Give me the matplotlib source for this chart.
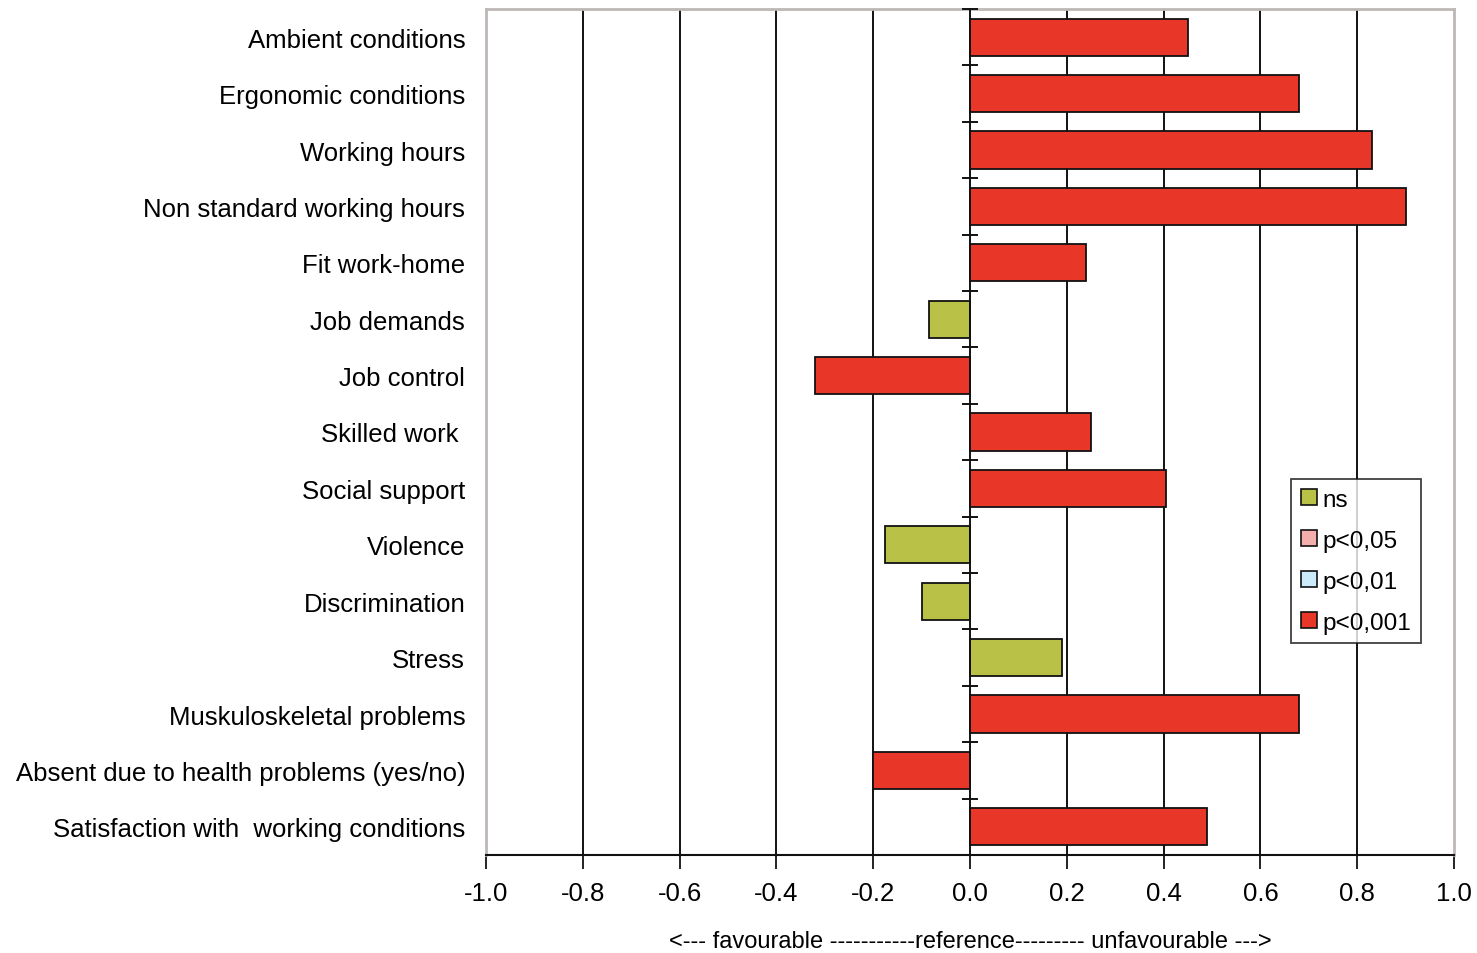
import matplotlib
matplotlib.use("Agg")
import matplotlib.pyplot as plt
import numpy as np
from matplotlib.patches import Patch

categories = [
    "Ambient conditions",
    "Ergonomic conditions",
    "Working hours",
    "Non standard working hours",
    "Fit work-home",
    "Job demands",
    "Job control",
    "Skilled work ",
    "Social support",
    "Violence",
    "Discrimination",
    "Stress",
    "Muskuloskeletal problems",
    "Absent due to health problems (yes/no)",
    "Satisfaction with  working conditions",
]
values = [0.45, 0.68, 0.83, 0.90, 0.24, -0.085, -0.32, 0.25, 0.405, -0.175, -0.10, 0.19, 0.68, -0.20, 0.49]
significance = ["p<0,001", "p<0,001", "p<0,001", "p<0,001", "p<0,001", "ns", "p<0,001",
                "p<0,001", "p<0,001", "ns", "ns", "ns", "p<0,001", "p<0,001", "p<0,001"]
legend_labels = ["ns", "p<0,05", "p<0,01", "p<0,001"]
xticks = [-1.0, -0.8, -0.6, -0.4, -0.2, 0.0, 0.2, 0.4, 0.6, 0.8, 1.0]
xlabel = "<--- favourable -----------reference--------- unfavourable --->"

colors = {"ns": "#B9C147", "p<0,05": "#F4AEAE", "p<0,01": "#CBEBFA", "p<0,001": "#E83628"}

plt.rcParams['font.family'] = ['Liberation Sans', 'DejaVu Sans']

fig = plt.figure(figsize=(14.77, 9.54), dpi=100)
ax = fig.add_axes([486/1477, 1-856/954, (1454-486)/1477, (856-10)/954])

n = len(categories)
y = np.arange(n)
for xv in xticks[1:-1]:
    if xv != 0.0:
        ax.axvline(xv, color="#111111", lw=1.4, zorder=1)
ax.barh(y, values, height=0.66, color=[colors[s] for s in significance],
        edgecolor="#111111", linewidth=1.3, zorder=2)
ax.axvline(0, color="#111111", lw=1.4, zorder=3)
bounds = np.arange(n + 1) - 0.5
ax.plot(np.zeros(n + 1), bounds, marker="_", ms=12, mew=1.4, ls="none", color="#111111",
        zorder=4, clip_on=False)

ax.set_xlim(-1, 1)
ax.set_ylim(n - 0.5, -0.5)
ax.set_yticks(y)
ax.set_yticklabels(categories, fontsize=18.5)
ax.tick_params(axis="y", length=0, pad=15)
ax.set_xticks(xticks)
ax.set_xticklabels([f"{t:.1f}" for t in xticks], fontsize=18.5)
ax.tick_params(axis="x", length=10, width=1.3, pad=9, color="#111111")
ax.set_xlabel(xlabel, fontsize=17, labelpad=18)

for s in ["top", "left", "right"]:
    ax.spines[s].set_color("#BDB8B6")
    ax.spines[s].set_linewidth(2)
ax.spines["bottom"].set_color("#111111")
ax.spines["bottom"].set_linewidth(1.5)

handles = [Patch(facecolor=colors[l], edgecolor="#111111", linewidth=1.2) for l in legend_labels]
leg = ax.legend(handles, legend_labels, loc="upper left",
                bbox_to_anchor=((1291-486)/968, (856-480)/846),
                fontsize=17.5, frameon=True, fancybox=False, handlelength=0.65, handleheight=0.65,
                handletextpad=0.25, labelspacing=0.78, borderpad=0.4, borderaxespad=0)
leg.get_frame().set_edgecolor("#111111")
leg.get_frame().set_linewidth(1.3)

fig.savefig("out.png", dpi=100)
